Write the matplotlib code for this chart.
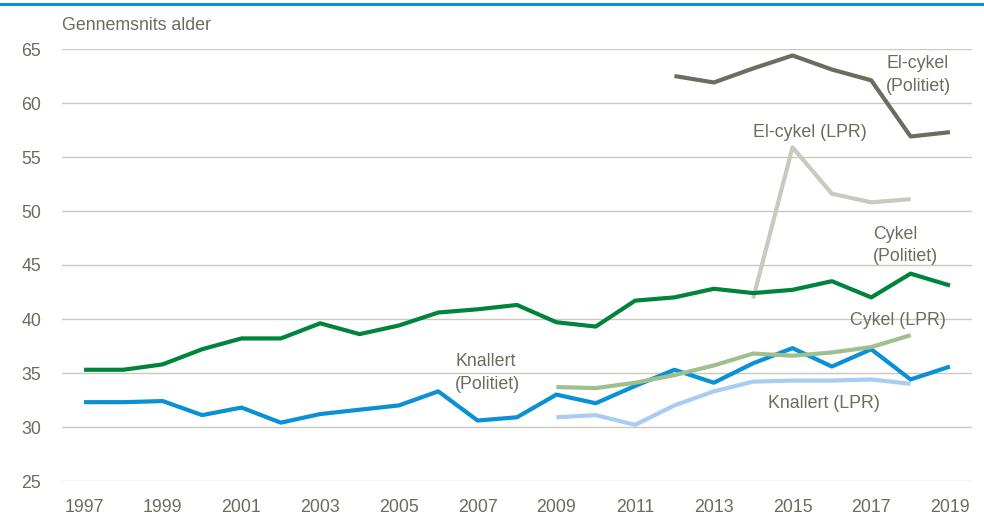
import matplotlib
matplotlib.use("Agg")
import matplotlib.pyplot as plt
from matplotlib.lines import Line2D

plt.rcParams['font.family'] = ['Liberation Sans', 'DejaVu Sans']

years_all = list(range(1997, 2020))
years_lpr = list(range(2009, 2019))
years_el_pol = list(range(2012, 2020))
years_el_lpr = list(range(2014, 2019))

cykel_politiet = [35.3, 35.3, 35.8, 37.2, 38.2, 38.2, 39.6, 38.6, 39.4, 40.6, 40.9, 41.3,
                  39.7, 39.3, 41.7, 42.0, 42.8, 42.4, 42.7, 43.5, 42.0, 44.2, 43.1]
knallert_politiet = [32.3, 32.3, 32.4, 31.1, 31.8, 30.4, 31.2, 31.6, 32.0, 33.3, 30.6, 30.9,
                     33.0, 32.2, 33.8, 35.3, 34.1, 35.9, 37.3, 35.6, 37.2, 34.4, 35.6]
cykel_lpr = [33.7, 33.6, 34.1, 34.8, 35.7, 36.8, 36.6, 36.9, 37.4, 38.5]
knallert_lpr = [30.9, 31.1, 30.2, 32.0, 33.3, 34.2, 34.3, 34.3, 34.4, 34.0]
elcykel_politiet = [62.5, 61.9, 63.2, 64.4, 63.1, 62.1, 56.9, 57.3]
elcykel_lpr = [41.9, 55.9, 51.6, 50.8, 51.1]

yticks = [25, 30, 35, 40, 45, 50, 55, 60, 65]
xticks = list(range(1997, 2020, 2))

txt = '#6b6b5e'
grid = '#c9c9bd'

fig = plt.figure(figsize=(9.84, 5.15), dpi=100)
ax = fig.add_axes([62/984, (515-481)/515, (972-62)/984, (481-49)/515])

for y in yticks:
    ax.axhline(y, color=grid, lw=1.0, zorder=1)

lw = 3.0
ax.plot(years_all, cykel_politiet, color='#00843c', lw=lw, zorder=3, solid_capstyle='butt')
ax.plot(years_all, knallert_politiet, color='#0a90d4', lw=lw, zorder=3, solid_capstyle='butt')
ax.plot(years_lpr, cykel_lpr, color='#9ec08e', lw=lw, zorder=4, solid_capstyle='butt')
ax.plot(years_lpr, knallert_lpr, color='#a8cdf0', lw=lw, zorder=2, solid_capstyle='butt')
ax.plot(years_el_pol, elcykel_politiet, color='#6d6d5f', lw=lw, zorder=3, solid_capstyle='butt')
ax.plot(years_el_lpr, elcykel_lpr, color='#c9c9bf', lw=lw, zorder=2, solid_capstyle='butt')

ax.set_xlim(1996.44, 2019.56)
ax.set_ylim(25, 65)
ax.set_yticks(yticks)
ax.set_xticks(xticks)
ax.set_xticklabels([str(x) for x in xticks])
for s in ax.spines.values():
    s.set_visible(False)
ax.tick_params(length=0, labelsize=12.8, colors=txt)
ax.tick_params(axis='y', pad=15)
ax.tick_params(axis='x', pad=13)

fs = 12.8
ls = 1.45
ax.text(2018.19, 62.6, 'El-cykel\n(Politiet)', ha='center', va='center', fontsize=fs, color=txt, linespacing=ls)
ax.text(2015.45, 57.3, 'El-cykel (LPR)', ha='center', va='center', fontsize=fs, color=txt)
ax.text(2017.05, 46.8, 'Cykel\n(Politiet)', ha='left', va='center', fontsize=fs, color=txt, linespacing=ls)
ax.text(2017.68, 39.9, 'Cykel (LPR)', ha='center', va='center', fontsize=fs, color=txt)
ax.text(2015.8, 32.2, 'Knallert (LPR)', ha='center', va='center', fontsize=fs, color=txt)
ax.text(2006.43, 35.0, 'Knallert\n(Politiet)', ha='left', va='center', fontsize=fs, color=txt, linespacing=ls)

fig.text(62/984, 1 - 26/515, 'Gennemsnits alder', ha='left', va='center', fontsize=12.8, color=txt)

fig.add_artist(Line2D([0, 1], [1 - 4/515, 1 - 4/515], color='#0a90d4', lw=2.2, transform=fig.transFigure))

fig.savefig('out.png', dpi=100, facecolor='white')
